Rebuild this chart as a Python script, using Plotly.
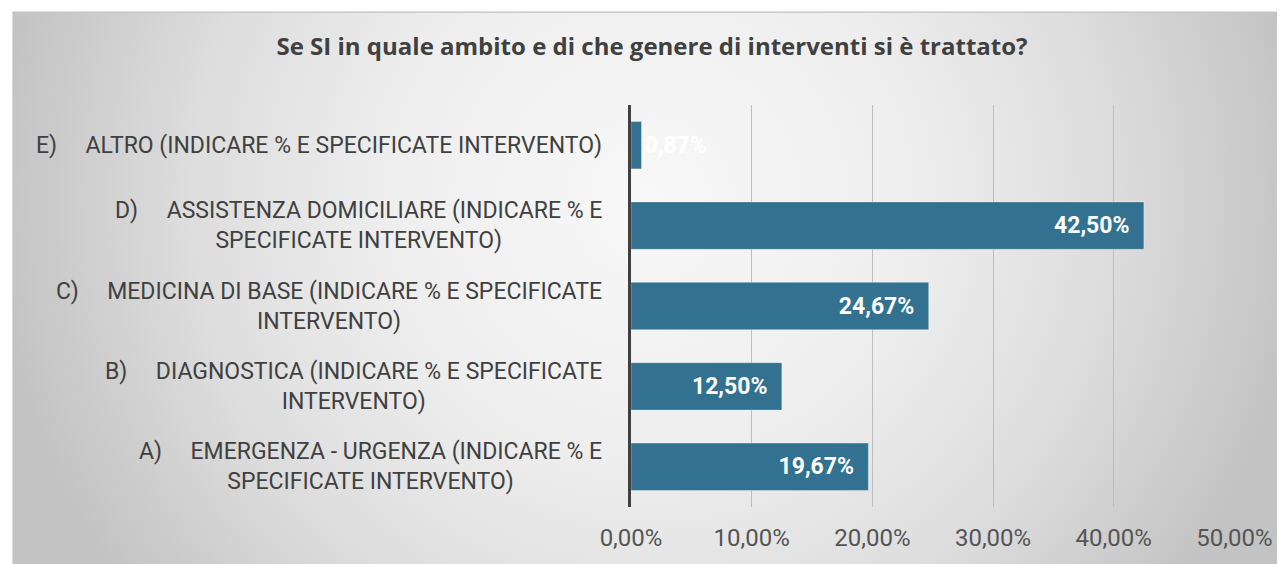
import base64
import plotly.graph_objects as go

# ---- data ----
categories = [
    "A) EMERGENZA - URGENZA (INDICARE % E SPECIFICATE INTERVENTO)",
    "B) DIAGNOSTICA (INDICARE % E SPECIFICATE INTERVENTO)",
    "C) MEDICINA DI BASE (INDICARE % E SPECIFICATE INTERVENTO)",
    "D) ASSISTENZA DOMICILIARE (INDICARE % E SPECIFICATE INTERVENTO)",
    "E) ALTRO (INDICARE % E SPECIFICATE INTERVENTO)",
]
category_labels = [
    "A)\u00a0\u00a0\u00a0\u00a0\u00a0EMERGENZA - URGENZA (INDICARE % E<br>SPECIFICATE INTERVENTO)",
    "B)\u00a0\u00a0\u00a0\u00a0\u00a0DIAGNOSTICA (INDICARE % E SPECIFICATE<br>INTERVENTO)",
    "C)\u00a0\u00a0\u00a0\u00a0\u00a0MEDICINA DI BASE (INDICARE % E SPECIFICATE<br>INTERVENTO)",
    "D)\u00a0\u00a0\u00a0\u00a0\u00a0ASSISTENZA DOMICILIARE (INDICARE % E<br>SPECIFICATE INTERVENTO)",
    "E)\u00a0\u00a0\u00a0\u00a0\u00a0ALTRO (INDICARE % E SPECIFICATE INTERVENTO)",
]
values = [19.67, 12.50, 24.67, 42.50, 0.87]
tick_values = [0, 10, 20, 30, 40, 50]
tick_labels = ["0,00%", "10,00%", "20,00%", "30,00%", "40,00%", "50,00%"]
title_text = "Se SI in quale ambito e di che genere di interventi si è trattato?"

# ---- geometry (page body has an 8px margin) ----
OFF = 8
W, H = 1285 - OFF, 564 - OFF
L = 631 - OFF
T = 105 - OFF
R = W - (1238 - OFF)
B = H - (512 - OFF)
PW, PH = W - L - R, H - T - B

def px_x(px):
    return (px - L) / PW

def px_y(py):
    return 1 - (py - T) / PH

FONT = "Roboto"
BAR = "#32718F"

texts = [f"{v:.2f}".replace(".", ",") + "%" for v in values]
positions = ["inside" if v > 5 else "outside" for v in values]
texts = [t + ("\u00a0\u00a0" if p == "inside" else "") for t, p in zip(texts, positions)]

fig = go.Figure(
    go.Bar(
        x=values,
        y=categories,
        orientation="h",
        marker=dict(color=BAR, line=dict(color="rgba(255,255,255,0.35)", width=1)),
        text=texts,
        textposition=positions,
        insidetextanchor="end",
        constraintext="none",
        textfont=dict(family=FONT, size=23, color="white", weight="bold"),
        cliponaxis=False,
        hoverinfo="skip",
    )
)

# background gradient (inside the frame)
fx0, fy0 = 10 - OFF, 11 - OFF
fx1, fy1 = W + 20, H + 20
gw, gh = fx1 - fx0, fy1 - fy0
cx, cy = 650 - OFF - fx0, 200 - OFF - fy0
svg = (
    f'<svg xmlns="http://www.w3.org/2000/svg" width="{gw}" height="{gh}" '
    f'viewBox="0 0 {gw} {gh}" preserveAspectRatio="none"><defs>'
    f'<radialGradient id="g" gradientUnits="userSpaceOnUse" cx="{cx}" cy="{cy}" r="660">'
    '<stop offset="0" stop-color="#f8f8f8"/><stop offset="0.4" stop-color="#eeeeee"/>'
    '<stop offset="0.7" stop-color="#dddddd"/><stop offset="1" stop-color="#c3c3c3"/>'
    f'</radialGradient></defs><rect width="{gw}" height="{gh}" fill="url(#g)"/></svg>'
)
src = "data:image/svg+xml;base64," + base64.b64encode(svg.encode()).decode()
fig.add_layout_image(
    source=src, xref="paper", yref="paper",
    x=px_x(fx0), y=px_y(fy0), sizex=gw / PW, sizey=gh / PH,
    xanchor="left", yanchor="top", sizing="stretch", layer="below",
)
fig.add_shape(
    type="rect", xref="paper", yref="paper",
    x0=px_x(fx0), y0=px_y(fy1), x1=px_x(fx1), y1=px_y(fy0),
    line=dict(color="#bfbfbf", width=1.3), fillcolor="rgba(0,0,0,0)", layer="below",
)

for cat, lab in zip(categories, category_labels):
    fig.add_annotation(
        x=0, xref="paper", y=cat, yref="y", text=lab, showarrow=False,
        xanchor="right", yanchor="middle", align="center", xshift=-27,
        font=dict(family=FONT, size=23, color="#404040"),
    )

fig.update_layout(
    width=W, height=H,
    margin=dict(l=L, r=R, t=T, b=B),
    paper_bgcolor="white", plot_bgcolor="rgba(0,0,0,0)",
    separators=",.",
    bargap=0.41,
    showlegend=False,
    title=dict(
        text=title_text, x=(652 - OFF) / W, xanchor="center",
        y=1 - (47 - OFF) / H, yanchor="middle",
        xref="container", yref="container",
        font=dict(family="Open Sans", size=24, color="#404040", weight="bold"),
    ),
    xaxis=dict(
        range=[0, 50.05], tickvals=tick_values, ticktext=tick_labels,
        showgrid=True, gridcolor="#bdbdbd", gridwidth=1.3,
        zeroline=False, showline=False, ticks="",
        tickfont=dict(family=FONT, size=24, color="#555555"),
        ticklabelstandoff=14,
    ),
    yaxis=dict(
        showticklabels=False, showgrid=False, zeroline=False,
        showline=True, linecolor="#404040", linewidth=3, ticks="",
    ),
)

fig.write_html("out.html")
